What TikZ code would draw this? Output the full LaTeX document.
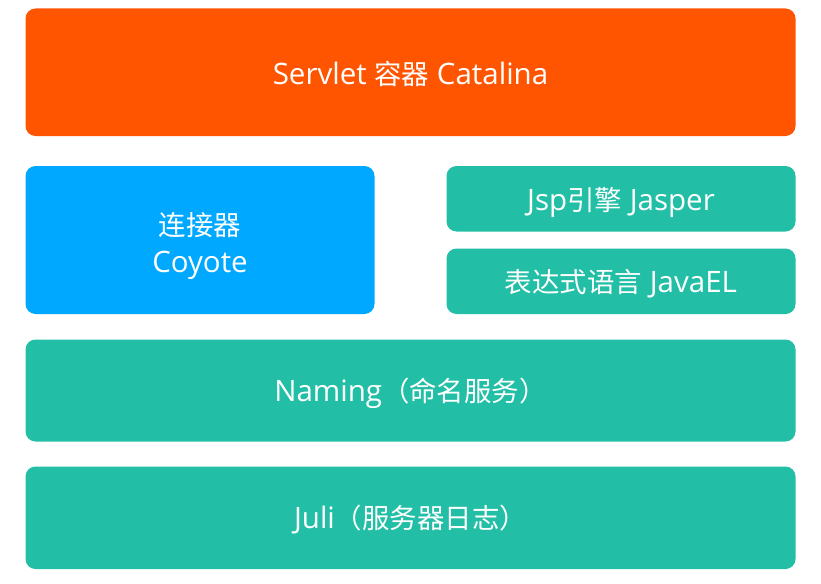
\documentclass[tikz,border=0pt]{standalone}
\usepackage{fontspec}
\setmainfont{Open Sans}
\newfontfamily\cjk[Scale=0.93]{Noto Sans CJK SC}
\definecolor{orangebox}{HTML}{FF5500}
\definecolor{bluebox}{HTML}{00A8FF}
\definecolor{tealbox}{HTML}{22BFA6}
\begin{document}
\begin{tikzpicture}[x=1pt,y=-1pt,
  layer/.style={rounded corners=10pt, inner sep=0pt, text=white,
    font=\fontsize{29.5}{37}\selectfont, align=center}]
\useasboundingbox (0,0) rectangle (821,583);
\fill[orangebox, rounded corners=10pt] (25.5,8.5) rectangle (795.5,136);
\node[layer] (catalina) at (410.5,74) {Servlet {\cjk 容器} Catalina};
\fill[bluebox, rounded corners=10pt] (25.5,166) rectangle (374.5,314);
\node[layer] (coyote) at (200,246) {{\cjk 连接器}\\Coyote};
\fill[tealbox, rounded corners=10pt] (446.5,166) rectangle (795.5,231.5);
\node[layer] (jasper) at (621,202) {Jsp{\cjk 引擎} Jasper};
\fill[tealbox, rounded corners=10pt] (446.5,248.5) rectangle (795.5,314);
\node[layer] (javael) at (621,284) {{\cjk 表达式语言} JavaEL};
\fill[tealbox, rounded corners=10pt] (25.5,339.5) rectangle (795.5,441.5);
\node[layer] (naming) at (410.5,393) {Naming{\cjk （命名服务）}};
\fill[tealbox, rounded corners=10pt] (25.5,466.5) rectangle (795.5,569);
\node[layer] (juli) at (410.5,520) {Juli{\cjk （服务器日志）}};
\end{tikzpicture}
\end{document}
